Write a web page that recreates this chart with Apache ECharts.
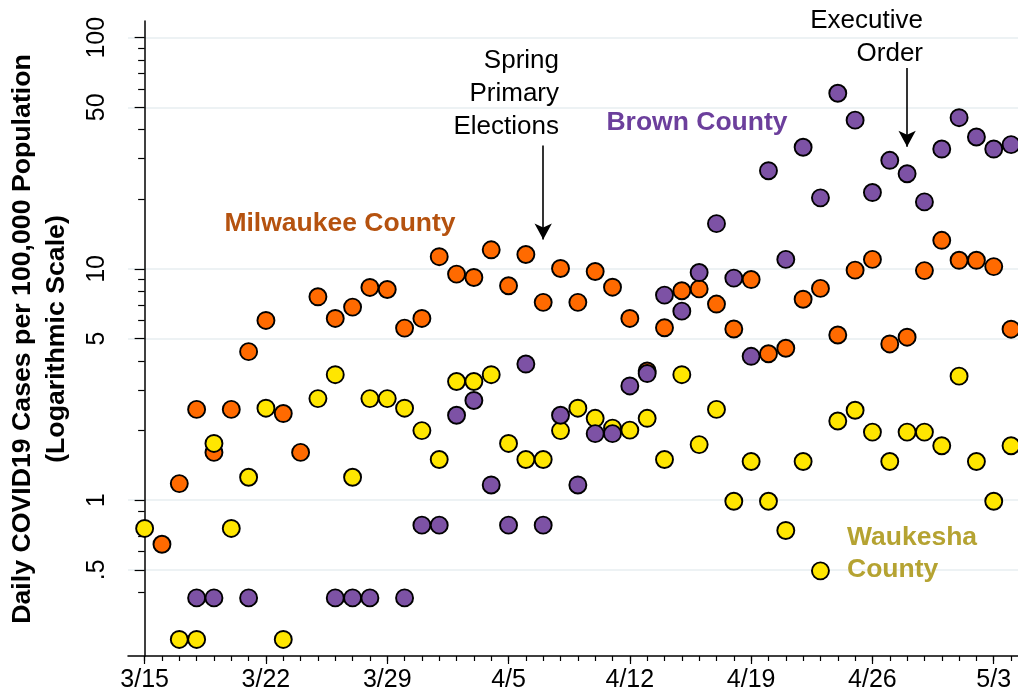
<!DOCTYPE html>
<html>
<head>
<meta charset="utf-8">
<script src="https://cdn.jsdelivr.net/npm/echarts@6/dist/echarts.min.js"></script>
<style>
  html, body { margin: 0; padding: 0; background: #fff; }
  #chart { width: 1018px; height: 698px; }
</style>
</head>
<body>
<div id="chart"></div>
<script>
// day 0 = 3/15/2020 ... day 50 = 5/4/2020
// daily cases per 100,000, null = no case that day (nothing drawn on a log scale)
var milwaukee = [null, 0.645, 1.18, 2.47, 1.61, 2.47, 4.39, 5.99, 2.37, 1.61,
  7.58, 6.11, 6.84, 8.32, 8.15, 5.55, 6.11, 11.3, 9.5, 9.19,
  12.1, 8.46, 11.55, 7.17, 10.05, 7.17, 9.75, 8.34, 6.11, 3.62,
  5.57, 8.05, 8.2, 7.05, 5.5, 9.0, 4.3, 4.54, 7.4, 8.24,
  5.18, 9.88, 11.0, 4.74, 5.07, 9.84, 13.3, 10.9, 10.9, 10.24,
  5.49];
var waukesha = [0.755, null, 0.25, 0.25, 1.76, 0.755, 1.257, 2.5, 0.25, null,
  2.75, 3.49, 1.257, 2.75, 2.75, 2.5, 2.0, 1.5, 3.26, 3.26,
  3.49, 1.76, 1.5, 1.5, 2.0, 2.5, 2.26, 2.05, 2.01, 2.26,
  1.5, 3.49, 1.74, 2.47, 0.99, 1.47, 0.99, 0.74, 1.47, 0.495,
  2.2, 2.45, 1.97, 1.47, 1.97, 1.97, 1.72, 3.44, 1.47, 0.99,
  1.72];
var brown = [null, null, null, 0.378, 0.378, null, 0.378, null, null, null,
  null, 0.378, 0.378, 0.378, null, 0.378, 0.78, 0.78, 2.33, 2.7,
  1.164, 0.78, 3.88, 0.78, 2.33, 1.164, 1.94, 1.94, 3.12, 3.53,
  7.71, 6.57, 9.65, 15.7, 9.13, 4.19, 26.6, 11.0, 33.6, 20.3,
  57.5, 44.0, 21.4, 29.5, 25.8, 19.5, 33.0, 45.1, 37.2, 33.0,
  34.5];

var xTickDays = [0, 7, 14, 21, 28, 35, 42, 49];
var xTickLabels = ['3/15', '3/22', '3/29', '4/5', '4/12', '4/19', '4/26', '5/3'];
var yTickValues = [0.5, 1, 5, 10, 50, 100];
var yTickLabels = ['.5', '1', '5', '10', '50', '100'];
var yMinorTicks = [0.4, 0.6, 0.7, 0.8, 0.9, 2, 3, 4, 6, 7, 8, 9, 20, 30, 40, 60, 70, 80, 90];

// event arrows: [day, from value, to value]
var primaryArrow = [23, 34.2, 13.4];
var orderArrow = [44, 74, 33.8];

var xMin = -0.96, xMax = 50.4;
var yMin = 0.212, yMax = 118.1;

function toPoints(arr) {
  var out = [];
  arr.forEach(function (v, i) { if (v != null) out.push([i, v]); });
  return out;
}
var dayTicks = [];
for (var d = 0; d <= 50; d++) dayTicks.push(d);

var font = 'Liberation Sans, Arial, Helvetica, sans-serif';

function dot(name, data, fill) {
  return {
    name: name, type: 'scatter', data: toPoints(data),
    symbol: 'circle', symbolSize: 17,
    itemStyle: { color: fill, borderColor: '#000', borderWidth: 1.9, opacity: 1 },
    z: 3
  };
}

var myChart = echarts.init(document.getElementById('chart'));
var option = {
  animation: false,
  backgroundColor: '#fff',
  grid: { left: 128, right: 0, top: 21, bottom: 42 },
  xAxis: [
    {
      type: 'value', min: xMin, max: xMax, position: 'bottom',
      axisLine: { show: true, lineStyle: { color: '#000', width: 1.5 } },
      axisTick: { show: true, length: 8, customValues: xTickDays, lineStyle: { color: '#000', width: 1.2 } },
      axisLabel: {
        customValues: xTickDays, margin: 12, fontSize: 25, color: '#000', fontFamily: font,
        formatter: function (v) { return xTickLabels[xTickDays.indexOf(Math.round(v))]; }
      },
      splitLine: { show: false }
    },
    {
      type: 'value', min: xMin, max: xMax, position: 'bottom',
      axisLine: { show: false },
      axisTick: { show: true, length: 5, customValues: dayTicks, lineStyle: { color: '#000', width: 1.2 } },
      axisLabel: { show: false },
      splitLine: { show: false }
    }
  ],
  yAxis: [
    {
      type: 'log', logBase: 10, min: yMin, max: yMax, position: 'left',
      axisLine: { show: true, lineStyle: { color: '#000', width: 1.5 } },
      axisTick: { show: true, length: 10, customValues: yTickValues, lineStyle: { color: '#000', width: 1.2 } },
      axisLabel: {
        customValues: yTickValues, rotate: 90, margin: 18, fontSize: 25, color: '#000', fontFamily: font,
        formatter: function (v) {
          for (var i = 0; i < yTickValues.length; i++) {
            if (Math.abs(Math.log10(v) - Math.log10(yTickValues[i])) < 0.01) return yTickLabels[i];
          }
          return '';
        }
      },
      splitLine: { show: true, lineStyle: { color: '#e7eef1', width: 1.5 } }
    },
    {
      type: 'log', logBase: 10, min: yMin, max: yMax, position: 'left',
      axisLine: { show: false },
      axisTick: { show: true, length: 6.5, customValues: yMinorTicks, lineStyle: { color: '#000', width: 1.2 } },
      axisLabel: { show: false },
      splitLine: { show: false }
    }
  ],
  series: [
    dot('Milwaukee County', milwaukee, '#ff6a00'),
    dot('Waukesha County', waukesha, '#ffe600'),
    dot('Brown County', brown, '#7d52a5'),
    {
      type: 'scatter', data: [], silent: true,
      markLine: {
        silent: true, symbol: ['none', 'arrow'], symbolSize: [13, 16],
        label: { show: false },
        lineStyle: { color: '#000', width: 1.6, type: 'solid' },
        data: [
          [{ coord: [primaryArrow[0], primaryArrow[1]] }, { coord: [primaryArrow[0], primaryArrow[2]] }],
          [{ coord: [orderArrow[0], orderArrow[1]] }, { coord: [orderArrow[0], orderArrow[2]] }]
        ]
      }
    }
  ],
  graphic: [
    { type: 'text', x: 40, y: 339, rotation: Math.PI / 2, z: 100,
      style: { text: 'Daily COVID19 Cases per 100,000 Population\n(Logarithmic Scale)', font: 'bold 26.7px ' + font,
        fill: '#000', align: 'center', verticalAlign: 'middle', lineHeight: 34 } },
    { type: 'text', x: 559, y: 44, z: 100,
      style: { text: 'Spring\nPrimary\nElections', font: '26px ' + font, fill: '#000', align: 'right', verticalAlign: 'top', lineHeight: 33 } },
    { type: 'text', x: 923, y: 4, z: 100,
      style: { text: 'Executive\nOrder', font: '26px ' + font, fill: '#000', align: 'right', verticalAlign: 'top', lineHeight: 33 } },
    { type: 'text', x: 340, y: 224, z: 100,
      style: { text: 'Milwaukee County', font: 'bold 26.5px ' + font, fill: '#b5520f', align: 'center', verticalAlign: 'middle' } },
    { type: 'text', x: 697, y: 123, z: 100,
      style: { text: 'Brown County', font: 'bold 26.5px ' + font, fill: '#6c3f9c', align: 'center', verticalAlign: 'middle' } },
    { type: 'text', x: 847, y: 522, z: 100,
      style: { text: 'Waukesha\nCounty', font: 'bold 26.5px ' + font, fill: '#b5a332', align: 'left', verticalAlign: 'top', lineHeight: 31.5 } }
  ]
};
myChart.setOption(option);
</script>
</body>
</html>
